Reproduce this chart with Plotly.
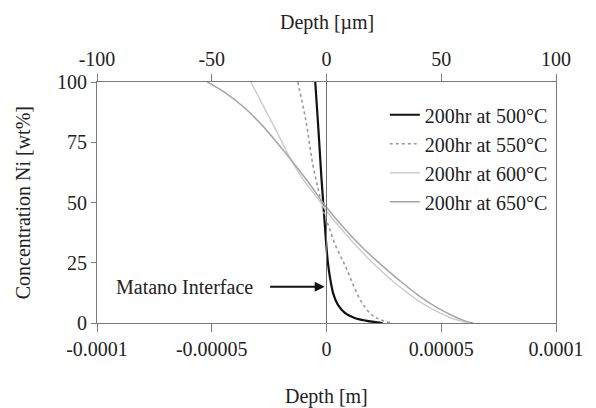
import plotly.graph_objects as go

# Depth in micrometres, concentration Ni in wt%
depth_500 = [-4.9, -3.5, -2.2, -1.2, -0.3, 0.5, 1.5, 3, 5, 8, 12, 17, 24.5]
conc_500 = [100, 80, 60, 47, 35, 26, 19, 12, 7.5, 4.2, 2.2, 1, 0]

depth_550 = [-12.5, -9, -6, -3.5, -1.5, 1, 4, 7, 9, 12, 15.5, 19, 22, 28]
conc_550 = [100, 84, 66, 55, 47, 40, 32, 26, 22, 15, 8.3, 4, 2, 0]

depth_600 = [-33, -27.5, -22, -15.4, -9, -4, 0, 6, 12, 18, 24, 30, 36, 42, 48, 54, 59, 62]
conc_600 = [100, 90, 80, 67.6, 58, 52, 46.5, 39.5, 33, 27, 21.5, 16.5, 12, 8, 4.8, 2.2, 0.7, 0]

depth_650 = [-52, -44, -36, -28, -20, -15.4, -8, 0, 8, 16, 24, 32, 40, 48, 55, 60, 64]
conc_650 = [100, 95.5, 89.5, 82, 73, 67.6, 58.5, 48, 39, 31, 24, 17.5, 11.5, 6.5, 3, 1, 0]

names = ["200hr at 500°C", "200hr at 550°C", "200hr at 600°C", "200hr at 650°C"]

x_ticks_m = [-0.0001, -0.00005, 0, 0.00005, 0.0001]
x_ticklabels_m = ["-0.0001", "-0.00005", "0", "0.00005", "0.0001"]
x_ticks_um = [-100, -50, 0, 50, 100]
y_ticks = [0, 25, 50, 75, 100]

FONT = "Liberation Serif, Times New Roman, Times, serif"
AX = "#7a7a7a"
TXT = "#222222"

def to_m(v):
    return [d * 1e-6 for d in v]

fig = go.Figure()
styles = [
    dict(color="#111111", width=2.2),
    dict(color="#9a9a9a", width=1.6, dash="dot"),
    dict(color="#cdcdcd", width=1.5),
    dict(color="#a6a6a6", width=1.5),
]
for d, c, n, s in zip([depth_500, depth_550, depth_600, depth_650],
                      [conc_500, conc_550, conc_600, conc_650], names, styles):
    fig.add_trace(go.Scatter(x=to_m(d), y=c, mode="lines", name=n, line=s,
                             line_shape="spline"))

# dummy trace so the top (µm) axis is drawn
fig.add_trace(go.Scatter(x=[x_ticks_um[0], x_ticks_um[-1]], y=[0, 0], xaxis="x2",
                         mode="lines", line=dict(width=0), showlegend=False,
                         hoverinfo="skip"))

# Matano interface line
fig.add_shape(type="line", x0=0, x1=0, y0=0, y1=100, xref="x", yref="y",
              line=dict(color="#707070", width=1))

fig.add_annotation(x=-0.0000008, y=15, xref="x", yref="y", ax=-56, ay=0,
                   text="", showarrow=True, arrowhead=2, arrowsize=1,
                   arrowwidth=2, arrowcolor="#111111")
fig.add_annotation(x=-0.000031, y=15, xref="x", yref="y", text="Matano Interface",
                   showarrow=False, xanchor="right", yanchor="middle",
                   font=dict(family=FONT, size=20, color=TXT))

fig.add_annotation(x=0.5, y=1.245, xref="paper", yref="paper", text="Depth [µm]",
                   showarrow=False, xanchor="center", yanchor="middle",
                   font=dict(family=FONT, size=20, color=TXT))
fig.add_annotation(x=0.5, y=-0.307, xref="paper", yref="paper", text="Depth [m]",
                   showarrow=False, xanchor="center", yanchor="middle",
                   font=dict(family=FONT, size=20, color=TXT))
fig.add_annotation(x=-0.1616, y=0.5, xref="paper", yref="paper",
                   text="Concentration Ni [wt%]", textangle=-90,
                   xanchor="center", yanchor="middle",
                   showarrow=False, font=dict(family=FONT, size=20, color=TXT))

axis_common = dict(showgrid=False, zeroline=False, showline=True, linecolor=AX,
                   linewidth=1, ticks="outside", tickcolor=AX, tickwidth=1,
                   tickfont=dict(family=FONT, size=20, color=TXT))

fig.update_layout(
    width=596, height=408,
    margin=dict(l=97, r=35, t=82, b=85),
    paper_bgcolor="white", plot_bgcolor="white",
    font=dict(family=FONT, size=20, color=TXT),
    showlegend=True,
    legend=dict(x=0.627, y=0.945, xanchor="left", yanchor="top",
                bgcolor="rgba(0,0,0,0)",
                font=dict(family=FONT, size=20, color=TXT)),
    xaxis=dict(range=[-0.0001, 0.0001], tickvals=x_ticks_m, ticktext=x_ticklabels_m,
               ticklen=8, **axis_common),
    xaxis2=dict(range=[-100, 100], tickvals=x_ticks_um,
                ticktext=[str(v) for v in x_ticks_um], overlaying="x", side="top",
                ticklen=7, **axis_common),
    yaxis=dict(range=[0, 100], tickvals=y_ticks, ticktext=[str(v) for v in y_ticks],
               ticklen=5, mirror=True, **axis_common),
)

fig.write_html("out.html")
